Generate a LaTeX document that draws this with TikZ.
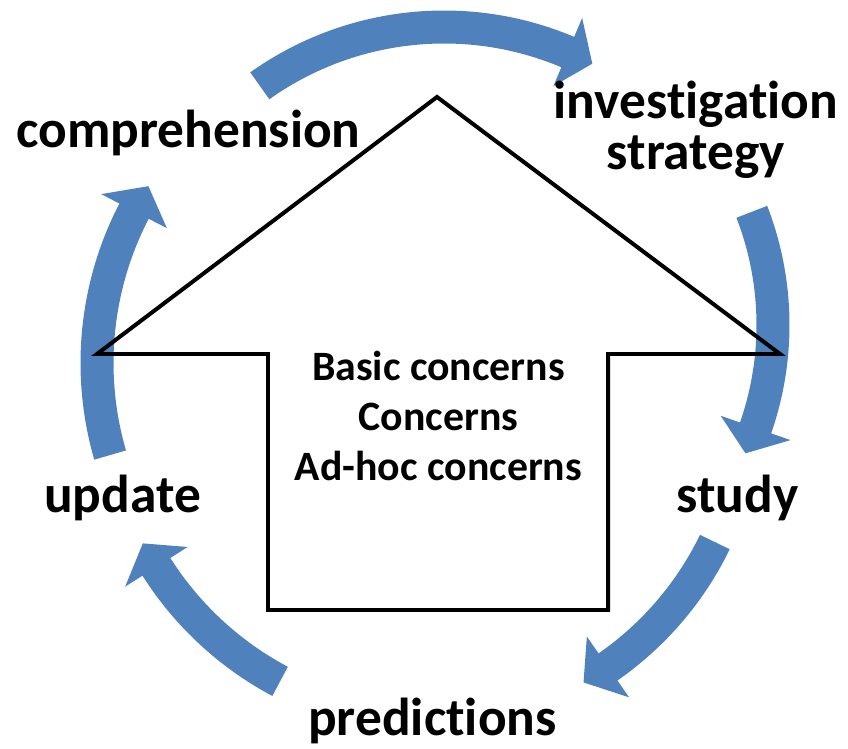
\documentclass[tikz,border=0pt]{standalone}
\usepackage{fontspec}
\setmainfont{Carlito}[Ligatures=NoCommon]
\usetikzlibrary{calc}
\definecolor{arrowblue}{HTML}{4F81BD}
\newcommand\cyclearrow[6]{% cx, cy, r, tail angle, head-base angle, tip angle
  \begin{scope}[shift={(#1,#2)}]
    \fill[arrowblue] ({#4}:{#3+16.5}) arc[start angle=#4, end angle=#5, radius=#3+16.5]
      -- ({#5}:{#3+37}) -- ({#6}:{#3}) -- ({#5}:{#3-37})
      -- ({#5}:{#3-16.5}) arc[start angle=#5, end angle=#4, radius=#3-16.5] -- cycle;
  \end{scope}}
\tikzset{
  lbl/.style={font=\fontsize{30.4}{29.5}\selectfont\bfseries, inner sep=0pt, anchor=base, align=center},
  ctr/.style={font=\fontsize{23.8}{28.4}\selectfont\bfseries, inner sep=0pt, anchor=base, align=center},
  house/.style={draw=black, line width=2.27pt, miter limit=12}
}
\begin{document}
\begin{tikzpicture}[x=0.02cm, y=-0.02cm]
\useasboundingbox (0,0) rectangle (848,749);
% cycle arrows
\cyclearrow{444}{345}{318}{-125.4}{-67.1}{-62.2}
\cyclearrow{460}{325}{313}{-21.2}{19.2}{24.2}
\cyclearrow{422.5}{400.1}{325}{25.9}{55.2}{60.3}
\cyclearrow{435}{390}{330}{118}{147.6}{152.3}
\cyclearrow{427}{363}{330}{163.8}{207.4}{212.4}
% house-shaped arrow
\draw[house] (97,354) -- (437,97) -- (780,354) -- (608,354) -- (608,610)
  -- (268,610) -- (268,354) -- cycle;
% labels
\node[lbl] (comp) at (188.5,148) {comprehension};
\node[lbl] (inv) at (696,170) {investigation\\strategy};
\node[lbl] (study) at (737.5,512) {study};
\node[lbl] (pred) at (432.5,735) {predictions};
\node[lbl] (upd) at (122.5,512) {update};
\node[ctr] (conc) at (438.5,480) {Basic concerns\\Concerns\\Ad-hoc concerns};
\end{tikzpicture}
\end{document}
